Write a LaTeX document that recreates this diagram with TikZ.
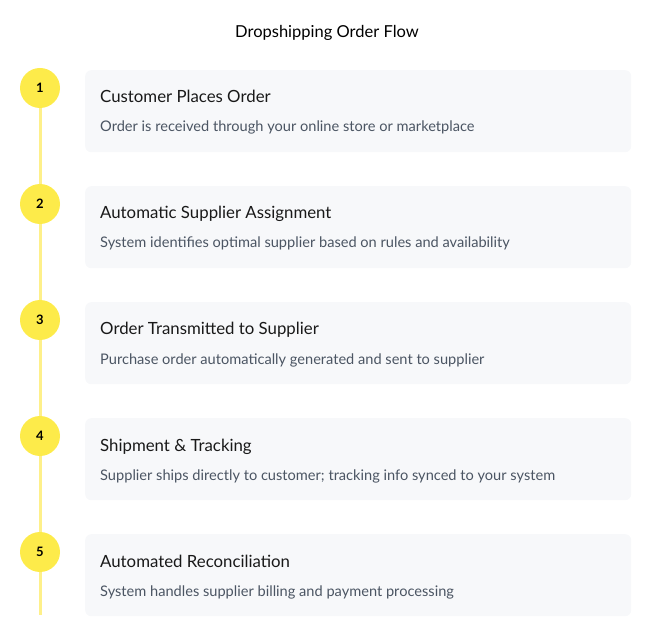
\documentclass[tikz,border=0pt]{standalone}
\usepackage{fontspec}
\setmainfont{Lato}
\usetikzlibrary{positioning}
\definecolor{stepyellow}{HTML}{FDEB4A}
\definecolor{lineyellow}{HTML}{FEF08A}
\definecolor{cardgray}{HTML}{F7F8FA}
\definecolor{subgray}{HTML}{4B5563}
\tikzset{
  card/.style={fill=cardgray, rounded corners=6pt, minimum width=546pt, minimum height=82pt, anchor=north west},
  badge/.style={circle, fill=stepyellow, minimum size=40pt, inner sep=0pt, font=\fontsize{13}{15}\selectfont\bfseries},
  headtext/.style={anchor=base west, inner sep=0pt, font=\fontsize{16.8}{20}\selectfont, text=black!90},
  subtext/.style={anchor=base west, inner sep=0pt, font=\fontsize{14.6}{17}\selectfont, text=subgray}
}
\begin{document}
\begin{tikzpicture}[x=1pt,y=-1pt]
  \useasboundingbox (0,0) rectangle (654,639);
  \node[inner sep=0pt] (title) at (327,33) {\fontsize{16.5}{19}\selectfont Dropshipping Order Flow};

  \coordinate (lineend) at (40,615);
  \draw[lineyellow, line width=3pt] (40,88) -- (lineend);

  \foreach \n/\head/\sub [count=\i from 0] in {
    1/Customer Places Order/Order is received through your online store or marketplace,
    2/Automatic Supplier Assignment/System identifies optimal supplier based on rules and availability,
    3/Order Transmitted to Supplier/Purchase order automatically generated and sent to supplier,
    4/Shipment \& Tracking/Supplier ships directly to customer; tracking info synced to your system,
    5/Automated Reconciliation/System handles supplier billing and payment processing} {
    \node[card] (card\n) at (85,{70+116*\i}) {};
    \node[badge] (badge\n) at (40,{88+116*\i}) {\n};
    \node[headtext] (head\n) at (100,{103+116*\i}) {\head};
    \node[subtext] (sub\n) at (100,{132+116*\i}) {\sub};
  }
\end{tikzpicture}
\end{document}
